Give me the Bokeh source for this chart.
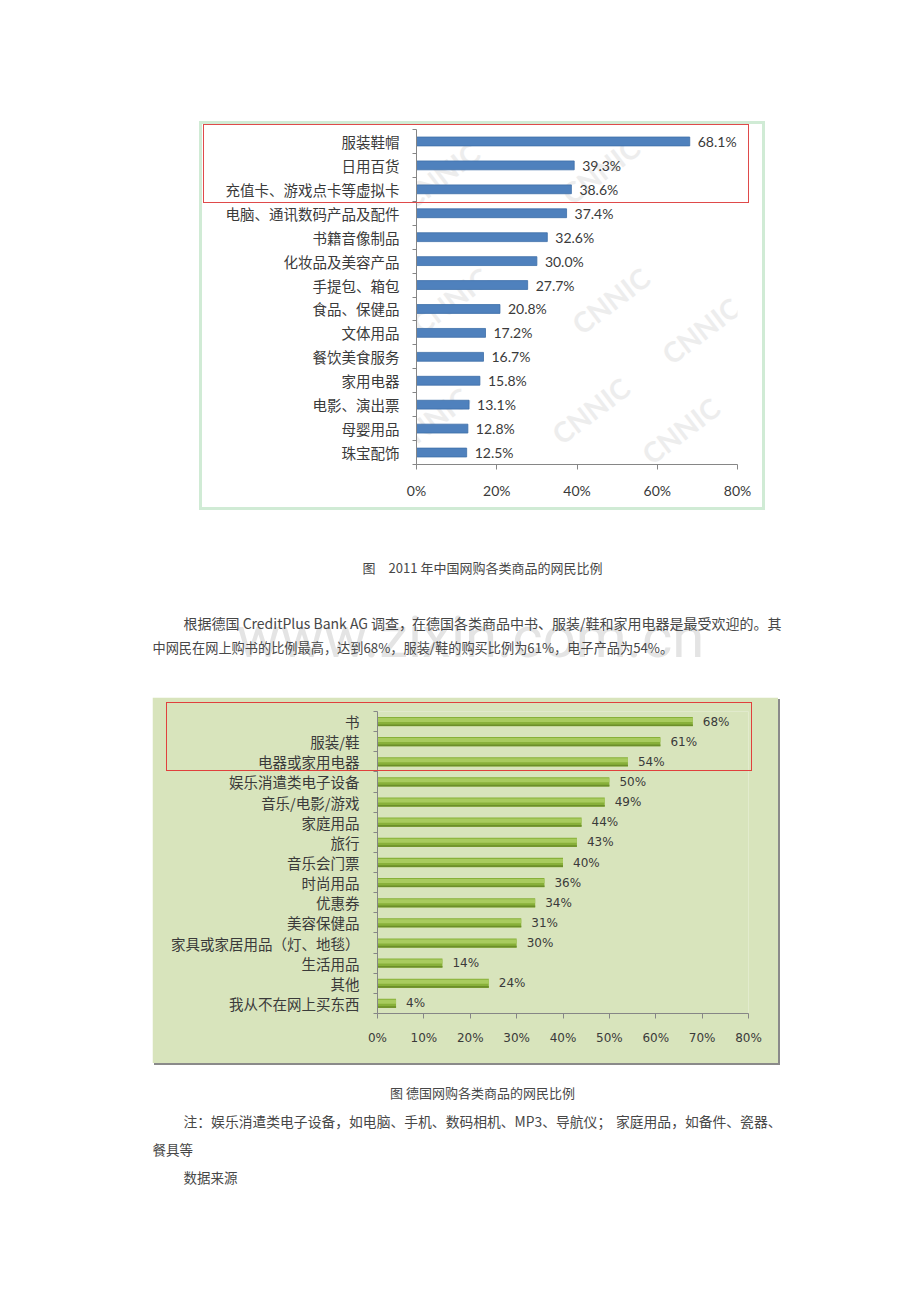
from bokeh.plotting import figure
from bokeh.layouts import column, row
from bokeh.models import (Range1d, LinearAxis, FixedTicker, CustomJSTickFormatter,
                          PrintfTickFormatter, ColumnDataSource, LabelSet, Label, Spacer)
from bokeh.transform import dodge
from bokeh.core.properties import value
from bokeh.embed import file_html
from bokeh.resources import INLINE

# ---------------- data ----------------
cn_categories = ["服装鞋帽", "日用百货", "充值卡、游戏点卡等虚拟卡", "电脑、通讯数码产品及配件",
                 "书籍音像制品", "化妆品及美容产品", "手提包、箱包", "食品、保健品", "文体用品",
                 "餐饮美食服务", "家用电器", "电影、演出票", "母婴用品", "珠宝配饰"]
cn_values = [68.1, 39.3, 38.6, 37.4, 32.6, 30.0, 27.7, 20.8, 17.2, 16.7, 15.8, 13.1, 12.8, 12.5]
cn_ticks = [0, 20, 40, 60, 80]

de_categories = ["书", "服装/鞋", "电器或家用电器", "娱乐消遣类电子设备", "音乐/电影/游戏",
                 "家庭用品", "旅行", "音乐会门票", "时尚用品", "优惠券", "美容保健品",
                 "家具或家居用品（灯、地毯）", "生活用品", "其他", "我从不在网上买东西"]
de_values = [68, 61, 54, 50, 49, 44, 43, 40, 36, 34, 31, 30, 14, 24, 4]
de_ticks = [0, 10, 20, 30, 40, 50, 60, 70, 80]

caption_cn = "图　2011 年中国网购各类商品的网民比例"
paragraph_line1 = ["根据德国 CreditPlus Bank AG 调查，", "在德国各类商品中书、服装/鞋和家用电器是最受欢迎的。其"]
paragraph_line2 = "中网民在网上购书的比例最高，达到68%，服装/鞋的购买比例为61%，电子产品为54%。"
caption_de = "图 德国网购各类商品的网民比例"
note_line1 = ["注：娱乐消遣类电子设备，如电脑、手机、数码相机、MP3、导航仪；", "家庭用品，如备件、瓷器、"]
note_rest = ["餐具等", "数据来源"]
watermark = "www.zixin.com.cn"

CJK = "Noto Sans CJK SC"
LAT = "Lato, 'Noto Sans CJK SC'"
DV = "'DejaVu Sans', 'Noto Sans CJK SC'"
AXIS_GREY = "#868686"
TXT = "#3a3a3a"
BODY = "#474747"


def bar_chart(cats, vals, ticks, width, height, mb, cat_size, num_font, num_size,
              cat_standoff, fmt):
    n = len(cats)
    p = figure(width=width, height=height, x_range=Range1d(0, ticks[-1]), y_range=Range1d(n, 0),
               output_backend="svg", toolbar_location=None, x_axis_location=None,
               y_axis_location=None, min_border_left=mb[0], min_border_right=mb[1],
               min_border_top=mb[2], min_border_bottom=mb[3])
    p.xgrid.visible = False
    p.ygrid.visible = False
    p.outline_line_color = None
    # category labels at the centres, tick marks at the category boundaries
    yaxis = LinearAxis(ticker=FixedTicker(ticks=[i + 0.5 for i in range(n)],
                                          minor_ticks=list(range(n + 1))),
                       formatter=CustomJSTickFormatter(args=dict(labels=cats),
                                                       code="return labels[Math.floor(tick)]"),
                       axis_line_color=AXIS_GREY, major_tick_line_color=None,
                       major_tick_out=0, major_tick_in=0,
                       minor_tick_line_color=AXIS_GREY, minor_tick_out=4, minor_tick_in=0,
                       major_label_standoff=cat_standoff,
                       major_label_text_font=CJK, major_label_text_font_size=cat_size,
                       major_label_text_color=TXT)
    p.add_layout(yaxis, "left")
    xaxis = LinearAxis(ticker=FixedTicker(ticks=ticks), formatter=PrintfTickFormatter(format="%d%%"),
                       axis_line_color=AXIS_GREY, major_tick_line_color=AXIS_GREY,
                       major_tick_out=5, major_tick_in=0, minor_tick_line_color=None,
                       major_label_standoff=12, major_label_text_font=num_font,
                       major_label_text_font_size=num_size, major_label_text_color=TXT)
    p.add_layout(xaxis, "below")
    src = ColumnDataSource(dict(yc=[i + 0.5 for i in range(n)], v=vals,
                                lbl=[fmt.format(v) for v in vals]))
    return p, src


def frame_box(left, top, width, height, flow_bottom, color):
    """Red highlight rectangle drawn over the previous layout item, taking no room."""
    return Spacer(width=width, height=height,
                  margin=(top - flow_bottom, 0, flow_bottom - top - height, left),
                  styles={"border": f"1.5px solid {color}", "box-sizing": "border-box",
                          "pointer-events": "none"})


# ---------------- chart 1 (China) ----------------
C1_X0, C1_PX, C1_Y0, C1_PY = 416, 4.0125, 129, 23.93


def c1(px, py):
    return (px - C1_X0) / C1_PX, (py - C1_Y0) / C1_PY


p1, src1 = bar_chart(cn_categories, cn_values, cn_ticks, 560, 383, (214, 25, 5, 43),
                     "14.5px", LAT, "14px", 13, "{:.1f}%")
p1.background_fill_color = "white"
p1.border_fill_color = "white"
p1.margin = (3, 3, 3, 3)
p1.styles = {"box-shadow": "0 0 0 3px #d0ebd5"}
for (px, py) in [(440, 175), (600, 170), (450, 300), (610, 300), (700, 330),
                 (430, 420), (590, 410), (680, 430)]:
    wx, wy = c1(px, py)
    p1.add_layout(Label(x=wx, y=wy, text="CNNIC", angle=0.65, text_font="Lato",
                        text_font_style="bold", text_font_size="28px", text_color="#ededed",
                        text_align="center", text_baseline="middle", level="underlay"))
p1.hbar(y="yc", right="v", left=0, height=0.37, source=src1, fill_color="#4f81bd",
        line_color="#3d6ea8", line_width=0.8)
p1.add_layout(LabelSet(x="v", y="yc", text="lbl", source=src1, x_offset=8, text_baseline="middle",
                       text_font=value("Lato"), text_font_size="14px", text_color=TXT))

# ---------------- chart 2 (Germany) ----------------
p2, src2 = bar_chart(de_categories, de_values, de_ticks, 626, 366, (225, 30, 14, 50),
                     "14.5px", DV, "12px", 14, "{:d}%")
p2.background_fill_color = "#d8e4bc"
p2.border_fill_color = "#d8e4bc"
p2.margin = (0, 2, 2, 0)
p2.styles = {"box-shadow": "2px 2px 0 0 #8a8a8a"}
p2.hbar(y="yc", right="v", left=0, height=0.46, source=src2, fill_color="#88b03a",
        line_color=None)
p2.hbar(y=dodge("yc", -0.08, range=p2.y_range), right="v", left=0, height=0.2, source=src2,
        fill_color="#a8cb5e", line_color=None)
p2.hbar(y=dodge("yc", 0.18, range=p2.y_range), right="v", left=0, height=0.08, source=src2,
        fill_color="#6c8e2a", line_color=None)
p2.add_layout(LabelSet(x="v", y="yc", text="lbl", source=src2, x_offset=10, text_baseline="middle",
                       text_font=value("DejaVu Sans"), text_font_size="12px", text_color=TXT))

# ---------------- text sections ----------------
def text_fig(h, y0):
    f = figure(width=920, height=h, x_range=Range1d(0, 920), y_range=Range1d(y0 + h, y0),
               output_backend="svg", toolbar_location=None, x_axis_location=None,
               y_axis_location=None, min_border=0)
    f.xgrid.visible = False
    f.ygrid.visible = False
    f.outline_line_color = None
    return f


mid = text_fig(187, 510)
mid.text(x=[470], y=[636], text=[watermark], text_font=value("Roboto"), text_font_size="58px",
         text_color="#e4e4e4", text_align="center", text_baseline="middle")
mid.text(x=[482], y=[567], text=[caption_cn], text_font=value(CJK), text_font_size="13px",
         text_color=BODY, text_align="center", text_baseline="middle")
mid.text(x=[183, 781], y=[622, 622], text=paragraph_line1, text_font=value(CJK),
         text_font_size="14px", text_color=BODY, text_align=["left", "right"],
         text_baseline="middle")
mid.text(x=[152], y=[647], text=[paragraph_line2], text_font=value(CJK),
         text_font_size="13.2px", text_color=BODY, text_align="left", text_baseline="middle")

bottom = text_fig(237, 1065)
bottom.text(x=[482], y=[1092], text=[caption_de], text_font=value(CJK), text_font_size="13px",
            text_color=BODY, text_align="center", text_baseline="middle")
bottom.text(x=[183, 781], y=[1120, 1120], text=note_line1, text_font=value(CJK),
            text_font_size="13.8px", text_color=BODY, text_align=["left", "right"],
            text_baseline="middle")
bottom.text(x=[152, 183], y=[1148, 1176], text=note_rest, text_font=value(CJK),
            text_font_size="13.5px", text_color=BODY, text_align="left", text_baseline="middle")

layout = column(Spacer(width=920, height=121),
                row(Spacer(width=199, height=389), p1),
                frame_box(203, 124, 546, 79, 510, "#df4a4a"),
                mid,
                row(Spacer(width=152, height=368), p2),
                frame_box(166, 702, 586, 69, 1065, "#e0403c"),
                bottom)

open("out.html", "w").write(file_html(layout, INLINE))
